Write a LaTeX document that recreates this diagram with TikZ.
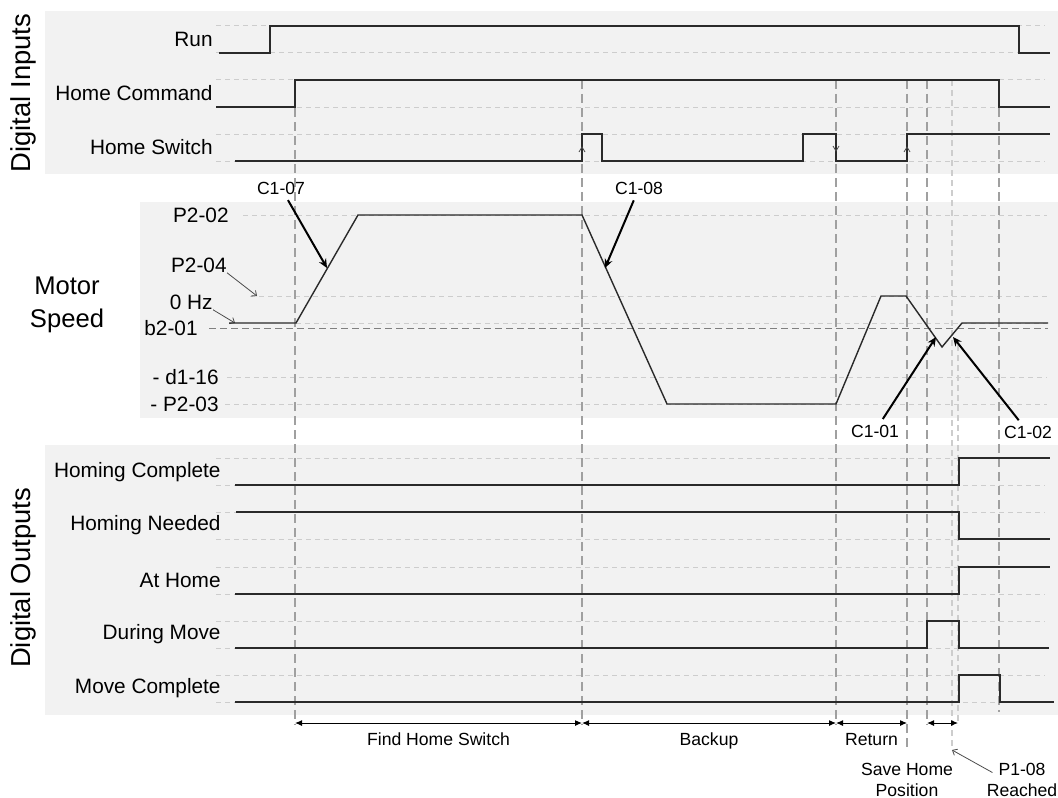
\documentclass[tikz,border=0pt]{standalone}
\usepackage{fontspec}
\setmainfont{Liberation Sans}
\usetikzlibrary{arrows.meta}
\usetikzlibrary{positioning}
\definecolor{panelgray}{HTML}{F2F2F2}
\definecolor{guidegray}{HTML}{CDCDCD}
\definecolor{markgray}{HTML}{A0A0A0}
\definecolor{siggray}{HTML}{2A2A2A}
\tikzset{
    panel/.style={fill=panelgray,draw=none},
    sig/.style={siggray,line width=0.7pt},
    guide/.style={guidegray,dash pattern=on 2.5pt off 2pt,line width=0.5pt},
    refline/.style={gray,dash pattern=on 3.5pt off 2pt,line width=0.5pt},
    vmark/.style={markgray,dash pattern=on 4.5pt off 2.5pt,line width=0.9pt},
    lightmark/.style={guidegray,dash pattern=on 3pt off 2pt,line width=0.7pt},
    rowlabel/.style={font=\fontsize{10.4}{12}\selectfont,anchor=east,inner sep=0pt},
    smalllabel/.style={font=\fontsize{8.8}{10.5}\selectfont,inner sep=1pt,align=center},
    grouplabel/.style={font=\fontsize{13.7}{16.5}\selectfont,inner sep=0pt,align=center},
    callout/.style={-{Stealth[length=4.5pt,width=4pt]},line width=1pt,shorten <=2pt},
    leader/.style={-{Straight Barb[length=2pt,width=3.5pt]},line width=0.4pt,black!70},
    span/.style={{Latex[length=3.5pt,width=3pt]}-{Latex[length=3.5pt,width=3pt]},line width=0.5pt},
    edgetip/.style={black!70,line width=0.4pt}
}
\begin{document}
\begin{tikzpicture}[x=0.5pt,y=-0.5pt]
\useasboundingbox (0,0) rectangle (1058,797);

% panels
\fill[panel] (45,11) rectangle (1058,174);
\fill[panel] (140,202) rectangle (1058,418);
\fill[panel] (45,445) rectangle (1058,715);

% level guides
\foreach \y in {26,53,80,107,134,161,458,485,512,539,567,594,621,648,675,702}
  \draw[guide] (216,\y) -- (1045,\y);
\draw[guide] (243,215) -- (1047,215);
\draw[guide] (250,296) -- (1047,296);
\draw[guide] (296,323) -- (1047,323);
\draw[guide] (227,377) -- (1047,377);
\draw[guide] (225,404) -- (1047,404);
\draw[refline] (209,328) -- (1048,328);

% event markers
\foreach \x/\yb in {295/725, 582/725, 836/725, 907/750, 927/725, 999/712}
  \draw[vmark] (\x,80) -- (\x,\yb);
\draw[lightmark] (952,80) -- (952,750);
\draw[lightmark] (958,345) -- (958,725);

% digital inputs
\node[grouplabel,rotate=90] (din) at (23,93) {Digital Inputs};
\node[rowlabel] (run) at (213,39) {Run};
\node[rowlabel] (hcmd) at (213,93) {Home Command};
\node[rowlabel] (hsw) at (213,147) {Home Switch};
\draw[sig] (219,53) -- (270,53) -- (270,26) -- (1019,26) -- (1019,53) -- (1050,53);
\draw[sig] (216,107) -- (295,107) -- (295,80) -- (999,80) -- (999,107) -- (1050,107);
\draw[sig] (235,161) -- (582,161) -- (582,134) -- (602,134) -- (602,161) -- (803,161)
  -- (803,134) -- (836,134) -- (836,161) -- (907,161) -- (907,134) -- (1050,134);
\draw[edgetip] (579,152) -- (582,147) -- (585,152);
\draw[edgetip] (833,146) -- (836,151) -- (839,146);
\draw[edgetip] (904,152) -- (907,147) -- (910,152);

% motor speed
\node[grouplabel,font=\fontsize{12.8}{16.5}\selectfont] (ms) at (67,304.5) {Motor\\Speed};
\node[rowlabel] (p202) at (229,215) {P2-02};
\node[rowlabel] (p204) at (227,265) {P2-04};
\node[rowlabel] (zhz) at (213,302) {0 Hz};
\node[rowlabel] (b201) at (198,328) {b2-01};
\node[rowlabel] (d116) at (219,377) {- d1-16};
\node[rowlabel] (p203) at (219,404) {- P2-03};
\coordinate (p204tip) at (257,296);
\coordinate (zhztip) at (235,323);
\draw[leader] (p204.south east) -- (p204tip);
\draw[leader] (zhz.south east) -- (zhztip);
\draw[sig] (229,323) -- (296,323) -- (358,215) -- (582,215) -- (667,404) -- (836,404)
  -- (881,296) -- (906,296) -- (942,347) -- (962,323) -- (1048,323);

\node[smalllabel] (c107) at (281,188) {C1-07};
\node[smalllabel] (c108) at (639,188) {C1-08};
\node[smalllabel] (c101) at (875,431) {C1-01};
\node[smalllabel] (c102) at (1028,432) {C1-02};
\coordinate (c107tip) at (327,268);
\coordinate (c108tip) at (605,268);
\coordinate (c101tip) at (936,337);
\coordinate (c102tip) at (953,337);
\draw[callout] (c107) -- (c107tip);
\draw[callout] (c108) -- (c108tip);
\draw[callout] (c101) -- (c101tip);
\draw[callout] (c102) -- (c102tip);

% digital outputs
\node[grouplabel,rotate=90] (dout) at (23,578) {Digital Outputs};
\node[rowlabel] (hcomp) at (221,472) {Homing Complete};
\node[rowlabel] (hneed) at (221,525) {Homing Needed};
\node[rowlabel] (athome) at (221,580) {At Home};
\node[rowlabel] (dmove) at (221,634) {During Move};
\node[rowlabel] (mcomp) at (221,688) {Move Complete};
\draw[sig] (235,485) -- (959,485) -- (959,458) -- (1050,458);
\draw[sig] (236,512) -- (959,512) -- (959,539) -- (1050,539);
\draw[sig] (235,594) -- (959,594) -- (959,567) -- (1050,567);
\draw[sig] (235,648) -- (927,648) -- (927,621) -- (959,621) -- (959,648) -- (1049,648);
\draw[sig] (235,702) -- (959,702) -- (959,675) -- (1000,675) -- (1000,702) -- (1054,702);

% phases
\coordinate (s1) at (295,723);
\coordinate (s2) at (582,723);
\coordinate (s3) at (836,723);
\coordinate (s4) at (907,723);
\coordinate (s5) at (927,723);
\coordinate (s6) at (958,723);
\draw[span] (s1) -- (s2) node[smalllabel,midway,anchor=base,yshift=-11pt] {Find Home Switch};
\draw[span] (s2) -- (s3) node[smalllabel,midway,anchor=base,yshift=-11pt] {Backup};
\draw[span] (s3) -- (s4) node[smalllabel,midway,anchor=base,yshift=-11pt] {Return};
\draw[span] (s5) -- (s6);
\node[smalllabel] (savehome) at (907,779.5) {Save Home\\Position};
\node[smalllabel] (p108) at (1022,779.5) {P1-08\\Reached};
\coordinate (p108tip) at (952,750);
\draw[leader] ([shift={(8,-7)}]p108.west) -- (p108tip);
\end{tikzpicture}
\end{document}
